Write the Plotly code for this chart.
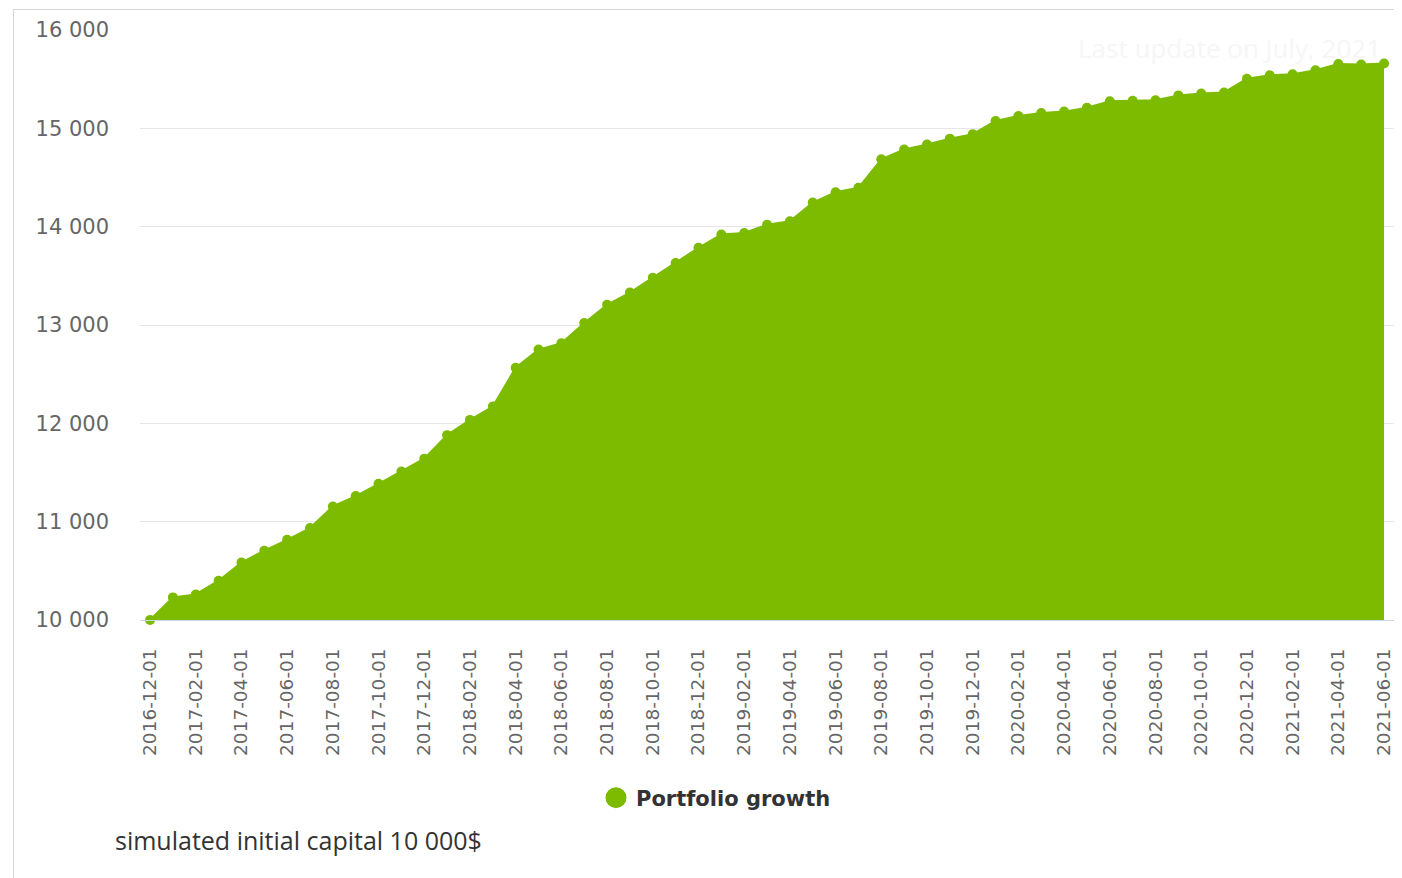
import plotly.graph_objects as go

months = [
    "2016-12-01", "2017-01-01", "2017-02-01", "2017-03-01", "2017-04-01", "2017-05-01",
    "2017-06-01", "2017-07-01", "2017-08-01", "2017-09-01", "2017-10-01", "2017-11-01",
    "2017-12-01", "2018-01-01", "2018-02-01", "2018-03-01", "2018-04-01", "2018-05-01",
    "2018-06-01", "2018-07-01", "2018-08-01", "2018-09-01", "2018-10-01", "2018-11-01",
    "2018-12-01", "2019-01-01", "2019-02-01", "2019-03-01", "2019-04-01", "2019-05-01",
    "2019-06-01", "2019-07-01", "2019-08-01", "2019-09-01", "2019-10-01", "2019-11-01",
    "2019-12-01", "2020-01-01", "2020-02-01", "2020-03-01", "2020-04-01", "2020-05-01",
    "2020-06-01", "2020-07-01", "2020-08-01", "2020-09-01", "2020-10-01", "2020-11-01",
    "2020-12-01", "2021-01-01", "2021-02-01", "2021-03-01", "2021-04-01", "2021-05-01",
    "2021-06-01",
]

portfolio_values = [
    10000, 10230, 10260, 10400, 10585, 10705,
    10815, 10935, 11155, 11260, 11385, 11510,
    11640, 11880, 12035, 12170, 12565, 12750,
    12815, 13020, 13205, 13330, 13480, 13630,
    13785, 13920, 13935, 14020, 14055, 14245,
    14350, 14395, 14685, 14785, 14835, 14895,
    14940, 15075, 15125, 15155, 15170, 15210,
    15275, 15280, 15285, 15335, 15355, 15365,
    15505, 15540, 15550, 15590, 15655, 15650,
    15660,
]

x_tick_months = months[::2]
y_tick_values = [10000, 11000, 12000, 13000, 14000, 15000, 16000]
y_tick_labels = ["10 000", "11 000", "12 000", "13 000", "14 000", "15 000", "16 000"]

series_name = "Portfolio growth"
caption_text = "simulated initial capital 10 000$"
update_text = "Last update on July, 2021"

GREEN = "#7cbb00"

# page body has an 8px margin: work in screen pixels, shifted by OFF
OFF = 8
FIG_W, FIG_H = 1402 - OFF, 878 - OFF
PL, PR, PT, PB = 140 - OFF, 1395 - OFF, 30 - OFF, 620 - OFF
PW, PH = PR - PL, PB - PT


def px(x):
    return (x - OFF - PL) / PW


def py(y):
    return (PB - (y - OFF)) / PH


fig = go.Figure()

fig.add_trace(go.Scatter(
    x=months,
    y=portfolio_values,
    mode="lines+markers",
    line=dict(color=GREEN, width=2),
    marker=dict(color=GREEN, size=10),
    fill="tozeroy",
    fillcolor=GREEN,
    showlegend=False,
    cliponaxis=False,
    name=series_name,
))

# legend-only entry (circle symbol, like the reference legend)
fig.add_trace(go.Scatter(
    x=[None],
    y=[None],
    mode="markers",
    marker=dict(color=GREEN, size=16, line=dict(color=GREEN, width=5)),
    name=series_name,
    showlegend=True,
))

fig.update_layout(
    width=FIG_W,
    height=FIG_H,
    margin=dict(l=PL, r=FIG_W - PR, t=PT, b=FIG_H - PB, autoexpand=False),
    paper_bgcolor="white",
    plot_bgcolor="white",
    showlegend=True,
    legend=dict(
        orientation="h",
        x=px(596),
        xanchor="left",
        y=py(798),
        yanchor="middle",
        font=dict(family="DejaVu Sans", size=21, color="#333333", weight="bold"),
        bgcolor="rgba(0,0,0,0)",
        itemsizing="trace",
    ),
    xaxis=dict(
        type="category",
        range=[-0.44, 54.48],
        tickmode="array",
        tickvals=x_tick_months,
        ticktext=x_tick_months,
        tickangle=-90,
        tickfont=dict(family="DejaVu Sans", size=18.5, color="#666666"),
        showgrid=False,
        showline=True,
        linecolor="#ccd6eb",
        linewidth=1,
        ticks="",
        ticklabelstandoff=20,
        zeroline=False,
        fixedrange=True,
    ),
    yaxis=dict(
        range=[10000, 16000],
        tickmode="array",
        tickvals=y_tick_values,
        ticktext=y_tick_labels,
        tickfont=dict(family="DejaVu Sans", size=21, color="#666666"),
        showgrid=True,
        gridcolor="#e6e6e6",
        gridwidth=1,
        zeroline=False,
        showline=False,
        ticks="",
        ticklabelstandoff=30,
        fixedrange=True,
    ),
    annotations=[
        dict(
            text=caption_text,
            xref="paper", yref="paper",
            x=px(113), y=py(840),
            xanchor="left", yanchor="middle",
            showarrow=False,
            font=dict(family="Open Sans", size=25, color="#333333"),
        ),
        dict(
            text=update_text,
            xref="paper", yref="paper",
            x=px(1383), y=py(48),
            xanchor="right", yanchor="middle",
            showarrow=False,
            font=dict(family="Open Sans", size=26, color="#f6f6f6"),
        ),
    ],
    shapes=[
        dict(type="line", xref="paper", yref="paper",
             x0=px(13), x1=px(1402),
             y0=py(9.5), y1=py(9.5),
             line=dict(color="#d6d6d6", width=1), layer="below"),
        dict(type="line", xref="paper", yref="paper",
             x0=px(13.5), x1=px(13.5),
             y0=py(9.5), y1=py(878),
             line=dict(color="#d6d6d6", width=1), layer="below"),
    ],
)

fig.write_html("out.html")
